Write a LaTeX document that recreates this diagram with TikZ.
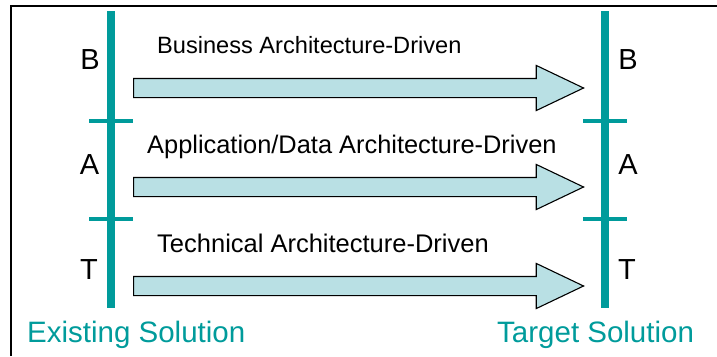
\documentclass[tikz,border=0pt]{standalone}
\usepackage{fontspec}
\setmainfont{Liberation Sans}
\usepackage{xcolor}
\usepackage{tikz}
\usetikzlibrary{
	arrows.meta,
	positioning,
	shapes.arrows,
	}
\definecolor{teal}{RGB}{0,155,155}
\definecolor{paleblue}{RGB}{185,224,228}

\begin{document}
\begin{tikzpicture}[x=1pt, y=-1pt,
		bar/.style={teal, line width=8pt},
		tick/.style={teal, line width=4pt},
		flow/.style={draw, fill=paleblue, line width=1.1pt, single arrow, anchor=tail,
			minimum height=450pt, inner xsep=0pt, inner ysep=9pt, text height=0pt, text depth=0pt,
			single arrow head extend=13pt, single arrow tip angle=51},
		layer/.style={inner sep=0pt, anchor=base, font=\fontsize{29}{30}\selectfont},
		lbl/.style={inner sep=0pt, anchor=base west, font=\fontsize{#1}{26}\selectfont},
		side/.style={inner sep=0pt, anchor=base west, text=teal, font=\fontsize{29.5}{32}\selectfont},
	]
			\useasboundingbox (0,0) rectangle (717,356);
			\draw[line width=2pt] (11,356) -- (11,6) -- (717,6);
			% existing and target bars
			\coordinate (ltop) at (111,11);
			\coordinate (lbot) at (111,308);
			\coordinate (rtop) at (605,11);
			\coordinate (rbot) at (605,308);
			\draw[bar] (ltop) -- (lbot);
			\draw[bar] (rtop) -- (rbot);
			\draw[tick] (89,121) -- (133,121);
			\draw[tick] (89,219) -- (133,219);
			\draw[tick] (583,121) -- (627,121);
			\draw[tick] (583,219) -- (627,219);
			\node[layer] (lB) at (90,69) {B};
			\node[layer] (lA) at (89.5,174) {A};
			\node[layer] (lT) at (89,279) {T};
			\node[layer] (rB) at (628,69) {B};
			\node[layer] (rA) at (628,174) {A};
			\node[layer] (rT) at (627,279) {T};
			% arrows
			\node[flow] (bus) at (133,88) {};
			\node[flow] (app) at (133,187) {};
			\node[flow] (tech) at (133,286) {};
			\node[lbl=23.6] (busl) at (157,53) {Business Architecture-Driven};
			\node[lbl=25.4] (appl) at (147,153) {Application/Data Architecture-Driven};
			\node[lbl=25.5] (techl) at (157,252) {Technical Architecture-Driven};
			\node[side] (exist) at (27,342) {Existing Solution};
			\node[side] (target) at (497,342) {Target Solution};
		\end{tikzpicture}
\end{document}
